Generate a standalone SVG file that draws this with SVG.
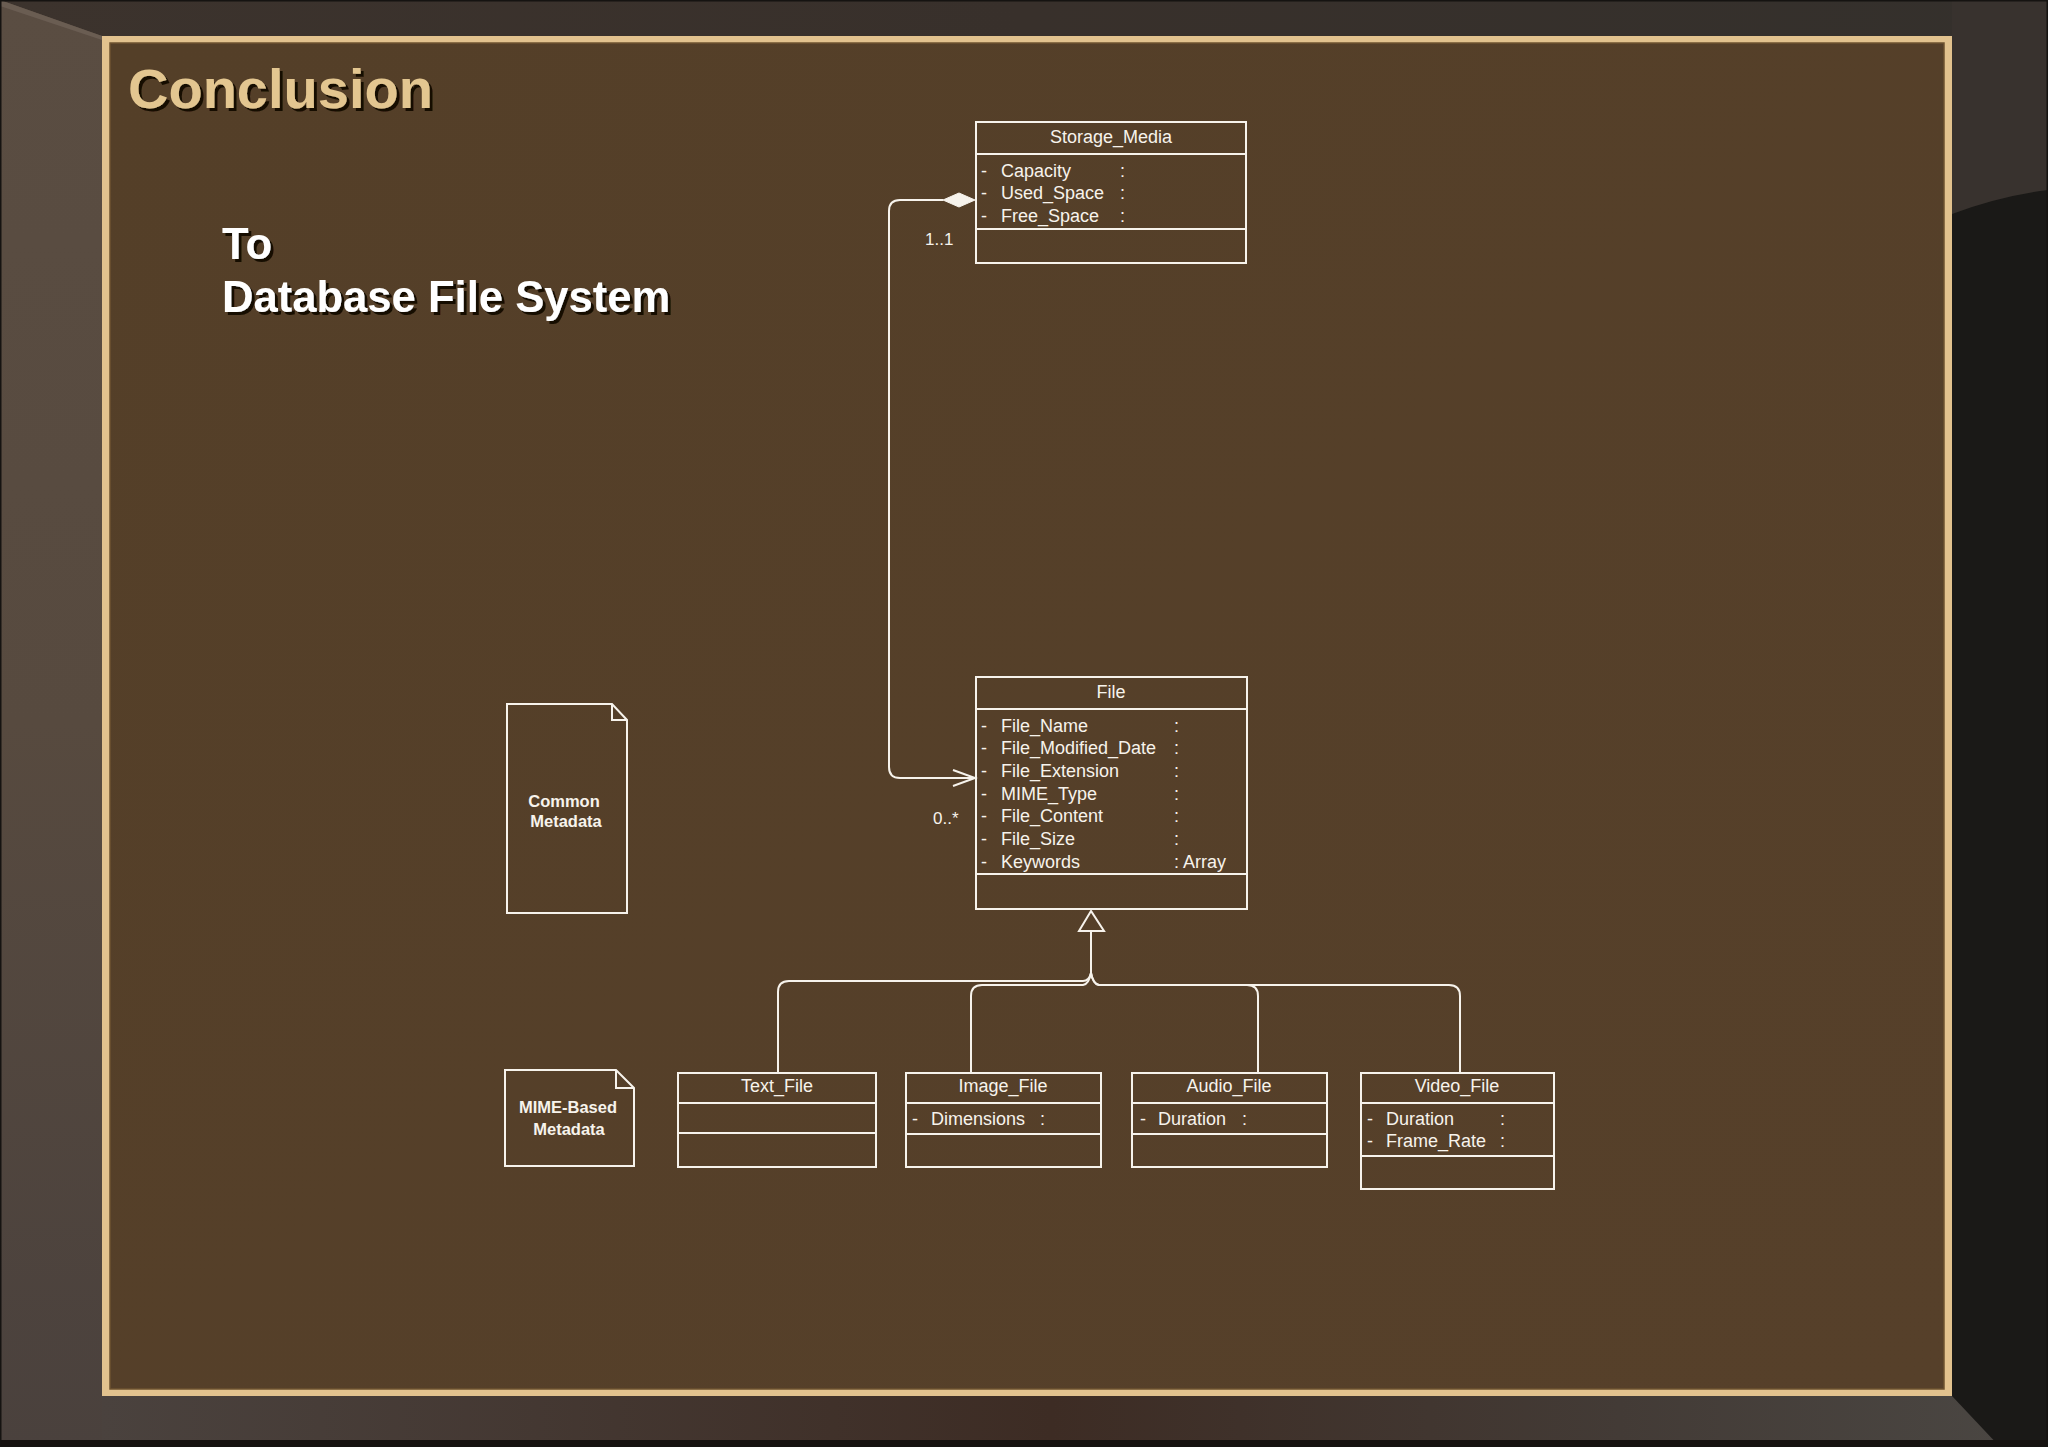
<svg xmlns="http://www.w3.org/2000/svg" width="2048" height="1447" viewBox="0 0 2048 1447">
<defs>
<style>
.box{fill:none;stroke:#f7f3ec;stroke-width:2}
.t{font-family:"Liberation Sans",Arial,sans-serif;font-size:18px;fill:#f7f3ec}
.d{font-family:"Liberation Sans",Arial,sans-serif;font-size:16.5px;font-weight:bold;fill:#f7f3ec;text-anchor:middle}
.c{text-anchor:middle}
.conn{fill:none;stroke:#f7f3ec;stroke-width:2}
.lbl{font-family:"Liberation Sans",Arial,sans-serif;font-size:17px;fill:#f7f3ec}
</style>
<linearGradient id="gTop" x1="0" y1="0" x2="1" y2="0">
<stop offset="0" stop-color="#3c332d"/><stop offset="0.5" stop-color="#38302b"/><stop offset="1" stop-color="#34302c"/>
</linearGradient>
<linearGradient id="gLeft" x1="0" y1="0" x2="0" y2="1">
<stop offset="0" stop-color="#5a4d42"/><stop offset="0.5" stop-color="#574a3f"/><stop offset="1" stop-color="#4a413d"/>
</linearGradient>
<linearGradient id="gBot" x1="0" y1="0" x2="1" y2="0">
<stop offset="0" stop-color="#4a423e"/><stop offset="0.5" stop-color="#3d2c24"/><stop offset="0.8" stop-color="#433b36"/><stop offset="1" stop-color="#4a4642"/>
</linearGradient>
<linearGradient id="gPanel" x1="0" y1="0" x2="1" y2="1">
<stop offset="0" stop-color="#543f28"/><stop offset="1" stop-color="#56402a"/>
</linearGradient>
<filter id="sh" x="-5%" y="-20%" width="110%" height="150%">
<feDropShadow dx="3" dy="3" stdDeviation="0.6" flood-color="#120c05" flood-opacity="1"/>
</filter>
</defs>

<g id="background">
<rect width="2048" height="1447" fill="#1a1917"/>
<rect x="0" y="0" width="2048" height="36" fill="url(#gTop)"/>
<polygon points="0,0 102,36 102,1447 0,1447" fill="url(#gLeft)"/>
<polygon points="0,0 102,36 102,40 0,6" fill="#6a5d52"/>
<path d="M1952,0 H2048 V190 Q2000,196 1952,214 Z" fill="#38322e"/>
<polygon points="102,1396 1952,1396 2000,1447 102,1447" fill="url(#gBot)"/>
<rect x="0" y="1440" width="2048" height="7" fill="#161210"/>
<rect x="0.5" y="0.5" width="2047" height="1446" fill="none" stroke="#151311" stroke-width="2"/>
</g>

<g id="panel">
<rect x="102" y="36" width="1850" height="1360" fill="#e2c28e"/>
<rect x="110" y="43" width="1834" height="1346" fill="url(#gPanel)" stroke="#6e5330" stroke-width="1.5"/>
</g>

<g id="title">
<text x="128" y="108" font-family="Liberation Sans, Arial, sans-serif" font-weight="bold" font-size="56" fill="#e3c690" filter="url(#sh)">Conclusion</text>
<text font-family="Liberation Sans, Arial, sans-serif" font-weight="bold" font-size="43.6" fill="#ffffff" filter="url(#sh)"><tspan x="222" y="259">To</tspan><tspan x="222" y="312">Database File System</tspan></text>
</g>

<g id="connectors">
<path class="conn" d="M943,200 H900 Q889,200 889,211 V767 Q889,778 900,778 H975"/>
<polygon points="943,200 959,193 975,200 959,207" fill="#f7f3ec" stroke="#f7f3ec" stroke-width="1"/>
<polyline class="conn" points="953,770 975,778 953,786"/>
<text class="lbl" x="925" y="245">1..1</text>
<text class="lbl" x="933" y="824">0..*</text>
<path class="conn" d="M1091,931 V973"/>
<polygon class="conn" points="1091,911 1079,931 1104,931"/>
<path class="conn" d="M778,1073 V992 Q778,981 789,981 H1083 Q1089,981 1091,973"/>
<path class="conn" d="M971,1073 V996 Q971,985 982,985 H1083 Q1089,984 1091,973"/>
<path class="conn" d="M1258,1073 V996 Q1258,985 1247,985 H1099 Q1093,984 1091,973"/>
<path class="conn" d="M1460,1073 V996 Q1460,985 1449,985 H1099 Q1093,984 1091,973"/>
</g>

<g id="Storage_Media">
<rect class="box" x="976" y="122" width="270" height="141"/>
<line class="box" x1="976" y1="154" x2="1246" y2="154"/>
<line class="box" x1="976" y1="229" x2="1246" y2="229"/>
<text class="t c" x="1111" y="143">Storage_Media</text>
<text class="t" x="981" y="177">-</text><text class="t" x="1001" y="177">Capacity</text><text class="t" x="1120" y="177">:</text>
<text class="t" x="981" y="199">-</text><text class="t" x="1001" y="199">Used_Space</text><text class="t" x="1120" y="199">:</text>
<text class="t" x="981" y="222">-</text><text class="t" x="1001" y="222">Free_Space</text><text class="t" x="1120" y="222">:</text>
</g>

<g id="File">
<rect class="box" x="976" y="677" width="271" height="232"/>
<line class="box" x1="976" y1="709" x2="1247" y2="709"/>
<line class="box" x1="976" y1="874" x2="1247" y2="874"/>
<text class="t c" x="1111" y="698">File</text>
<text class="t" x="981" y="732">-</text><text class="t" x="1001" y="732">File_Name</text><text class="t" x="1174" y="732">:</text>
<text class="t" x="981" y="754">-</text><text class="t" x="1001" y="754">File_Modified_Date</text><text class="t" x="1174" y="754">:</text>
<text class="t" x="981" y="777">-</text><text class="t" x="1001" y="777">File_Extension</text><text class="t" x="1174" y="777">:</text>
<text class="t" x="981" y="800">-</text><text class="t" x="1001" y="800">MIME_Type</text><text class="t" x="1174" y="800">:</text>
<text class="t" x="981" y="822">-</text><text class="t" x="1001" y="822">File_Content</text><text class="t" x="1174" y="822">:</text>
<text class="t" x="981" y="845">-</text><text class="t" x="1001" y="845">File_Size</text><text class="t" x="1174" y="845">:</text>
<text class="t" x="981" y="868">-</text><text class="t" x="1001" y="868">Keywords</text><text class="t" x="1174" y="868">: Array</text>
</g>

<g id="Common_Metadata">
<path class="box" d="M507,704 H612 L627,720 V913 H507 Z"/>
<path class="box" d="M612,704 V720 H627"/>
<text class="d" x="564" y="807">Common</text>
<text class="d" x="566" y="827">Metadata</text>
</g>

<g id="MIME_Based_Metadata">
<path class="box" d="M505,1070 H616 L634,1088 V1166 H505 Z"/>
<path class="box" d="M616,1070 V1088 H634"/>
<text class="d" x="568" y="1113">MIME-Based</text>
<text class="d" x="569" y="1135">Metadata</text>
</g>

<g id="Text_File">
<rect class="box" x="678" y="1073" width="198" height="94"/>
<line class="box" x1="678" y1="1103" x2="876" y2="1103"/>
<line class="box" x1="678" y1="1133" x2="876" y2="1133"/>
<text class="t c" x="777" y="1092">Text_File</text>
</g>

<g id="Image_File">
<rect class="box" x="906" y="1073" width="195" height="94"/>
<line class="box" x1="906" y1="1103" x2="1101" y2="1103"/>
<line class="box" x1="906" y1="1134" x2="1101" y2="1134"/>
<text class="t c" x="1003" y="1092">Image_File</text>
<text class="t" x="912" y="1125">-</text><text class="t" x="931" y="1125">Dimensions</text><text class="t" x="1040" y="1125">:</text>
</g>

<g id="Audio_File">
<rect class="box" x="1132" y="1073" width="195" height="94"/>
<line class="box" x1="1132" y1="1103" x2="1327" y2="1103"/>
<line class="box" x1="1132" y1="1134" x2="1327" y2="1134"/>
<text class="t c" x="1229" y="1092">Audio_File</text>
<text class="t" x="1140" y="1125">-</text><text class="t" x="1158" y="1125">Duration</text><text class="t" x="1242" y="1125">:</text>
</g>

<g id="Video_File">
<rect class="box" x="1361" y="1073" width="193" height="116"/>
<line class="box" x1="1361" y1="1103" x2="1554" y2="1103"/>
<line class="box" x1="1361" y1="1156" x2="1554" y2="1156"/>
<text class="t c" x="1457" y="1092">Video_File</text>
<text class="t" x="1367" y="1125">-</text><text class="t" x="1386" y="1125">Duration</text><text class="t" x="1500" y="1125">:</text>
<text class="t" x="1367" y="1147">-</text><text class="t" x="1386" y="1147">Frame_Rate</text><text class="t" x="1500" y="1147">:</text>
</g>
</svg>
